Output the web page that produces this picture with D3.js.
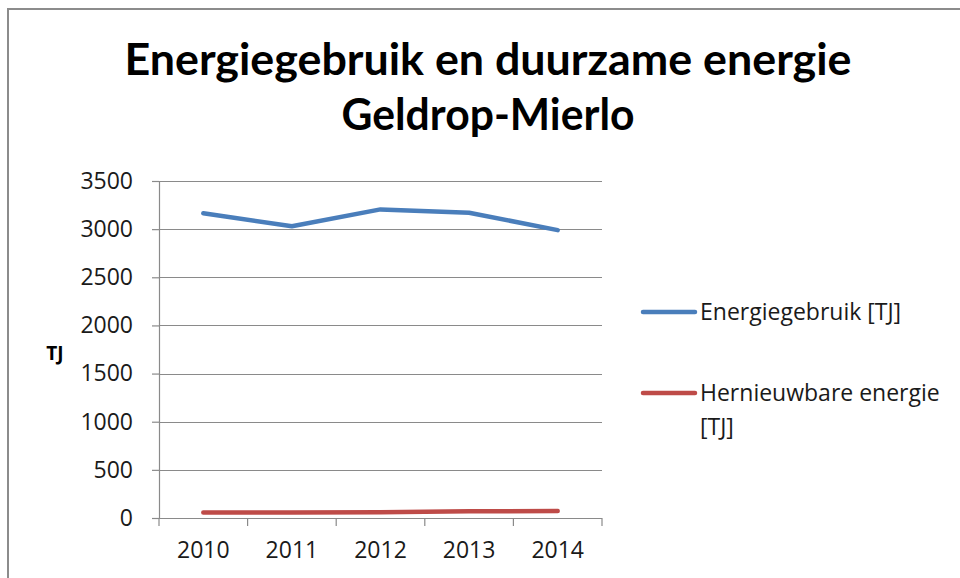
<!DOCTYPE html>
<html>
<head>
<meta charset="utf-8">
<script src="https://cdn.jsdelivr.net/npm/d3@7"></script>
<style>
  body { margin: 0; background: #fff; }
  text { font-family: "Open Sans", sans-serif; }
</style>
</head>
<body>
<svg id="chart" width="960" height="578"></svg>
<script>
const years = ['2010', '2011', '2012', '2013', '2014'];
const energiegebruik = [3165, 3030, 3205, 3170, 2990];
const hernieuwbaar = [58, 58, 60, 70, 72];
const yTicks = [0, 500, 1000, 1500, 2000, 2500, 3000, 3500];
const titleLines = ['Energiegebruik en duurzame energie', 'Geldrop-Mierlo'];

const svg = d3.select('#chart');

const margin = { top: 181, left: 159, right: 358, bottom: 60 };
const width = 960 - margin.left - margin.right;
const height = 518 - margin.top;

// outer chart frame
svg.append('rect')
  .attr('x', 8)
  .attr('y', 9)
  .attr('width', 1000)
  .attr('height', 1000)
  .attr('fill', 'none')
  .attr('stroke', '#8c8c8c')
  .attr('stroke-width', 2);

svg.append('g')
  .selectAll('text')
  .data(titleLines)
  .enter()
  .append('text')
  .attr('x', 488)
  .attr('y', (d, i) => 75 + i * 55)
  .attr('text-anchor', 'middle')
  .attr('font-weight', 'bold')
  .attr('font-size', '44px')
  .attr('fill', '#000')
  .style('font-family', 'Lato, sans-serif')
  .attr('textLength', (d, i) => (i === 0 ? 727 : 293))
  .attr('lengthAdjust', 'spacingAndGlyphs')
  .text(d => d);

const x = d3.scaleBand()
  .domain(years)
  .range([0, width]);

const y = d3.scaleLinear()
  .domain([0, 3500])
  .range([height, 0]);

const g = svg.append('g')
  .attr('transform', `translate(${margin.left},${margin.top})`);

// gridlines
g.append('g')
  .selectAll('line')
  .data(yTicks.filter(d => d > 0))
  .enter()
  .append('line')
  .attr('x1', 0)
  .attr('x2', width)
  .attr('y1', d => Math.round(y(d)) + 0.5)
  .attr('y2', d => Math.round(y(d)) + 0.5)
  .attr('stroke', '#8a8a8a')
  .attr('stroke-width', 1.2);

const yAxis = g.append('g')
  .call(d3.axisLeft(y).tickValues(yTicks).tickSize(7).tickPadding(19).tickFormat(d3.format('d')));

const xAxis = g.append('g')
  .attr('transform', `translate(0,${height})`)
  .call(d3.axisBottom(x).tickSize(0).tickPadding(24));

// category tick marks at band boundaries
xAxis.append('g')
  .selectAll('line')
  .data(years.map(d => x(d)).concat([width]))
  .enter()
  .append('line')
  .attr('x1', d => d)
  .attr('x2', d => d)
  .attr('y1', 0)
  .attr('y2', 8)
  .attr('stroke', '#8a8a8a')
  .attr('stroke-width', 1.2);

[yAxis, xAxis].forEach(ax => {
  ax.select('.domain').attr('stroke', '#8a8a8a').attr('stroke-width', 1.2);
  ax.selectAll('.tick line').attr('stroke', '#8a8a8a').attr('stroke-width', 1.2);
  ax.selectAll('.tick text')
    .attr('fill', '#1a1a1a')
    .style('font-size', '23px')
    .style('font-family', '"Open Sans", sans-serif');
});
xAxis.select('.domain').attr('d', `M0,0.5H${width}`);

svg.append('text')
  .attr('x', 55)
  .attr('y', 360)
  .attr('text-anchor', 'middle')
  .attr('font-weight', 'bold')
  .attr('font-size', '19px')
  .attr('fill', '#000')
  .text('TJ');

const line = d3.line()
  .x((d, i) => x(years[i]) + x.bandwidth() / 2)
  .y(d => y(d));

const series = [
  { name: 'Energiegebruik [TJ]', values: energiegebruik, color: '#4a7ebb' },
  { name: 'Hernieuwbare energie', values: hernieuwbaar, color: '#be4b48' },
];

g.selectAll('path.series')
  .data(series)
  .enter()
  .append('path')
  .attr('class', 'series')
  .attr('d', d => line(d.values))
  .attr('fill', 'none')
  .attr('stroke', d => d.color)
  .attr('stroke-width', 4.5)
  .attr('stroke-linecap', 'round')
  .attr('stroke-linejoin', 'round');

// legend
const legend = svg.append('g')
  .attr('transform', 'translate(643,312)');

const legendItems = legend.selectAll('g')
  .data(series)
  .enter()
  .append('g')
  .attr('transform', (d, i) => `translate(0,${i * 81})`);

legendItems.append('line')
  .attr('x1', 0)
  .attr('x2', 52)
  .attr('stroke', d => d.color)
  .attr('stroke-width', 4.5)
  .attr('stroke-linecap', 'round');

legendItems.append('text')
  .attr('x', 57)
  .attr('y', 8)
  .attr('font-size', '23px')
  .attr('fill', '#1a1a1a')
  .text(d => d.name);

legend.append('text')
  .attr('x', 57)
  .attr('y', 123)
  .attr('font-size', '23px')
  .attr('fill', '#1a1a1a')
  .text('[TJ]');
</script>
</body>
</html>
